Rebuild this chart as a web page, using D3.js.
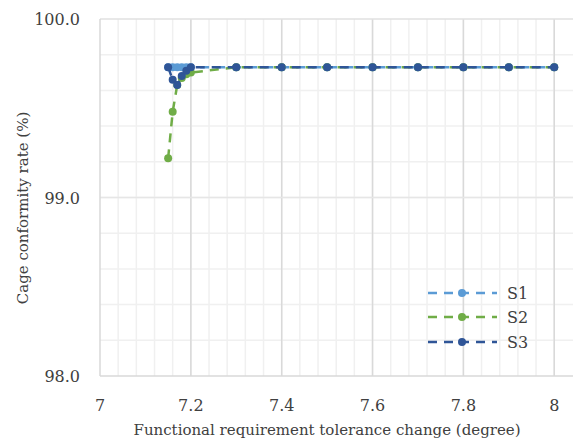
<!DOCTYPE html>
<html>
<head>
<meta charset="utf-8">
<script src="https://cdn.jsdelivr.net/npm/d3@7"></script>
<style>
  body { margin: 0; background: #fff; }
</style>
</head>
<body>
<svg width="573" height="442"></svg>
<script>
// Data
const x_values = [7.15, 7.16, 7.17, 7.18, 7.19, 7.2, 7.3, 7.4, 7.5, 7.6, 7.7, 7.8, 7.9, 8.0];
const s1_values = [99.73, 99.73, 99.73, 99.73, 99.73, 99.73, 99.73, 99.73, 99.73, 99.73, 99.73, 99.73, 99.73, 99.73];
const s2_values = [99.22, 99.48, 99.63, 99.67, 99.69, 99.70, 99.73, 99.73, 99.73, 99.73, 99.73, 99.73, 99.73, 99.73];
const s3_values = [99.73, 99.66, 99.63, 99.68, 99.71, 99.73, 99.73, 99.73, 99.73, 99.73, 99.73, 99.73, 99.73, 99.73];
const series_names = ["S1", "S2", "S3"];
const series_colors = ["#5b9bd5", "#70ad47", "#2f5597"];
const x_ticks = [7, 7.2, 7.4, 7.6, 7.8, 8];
const y_ticks = [98, 99, 100];

const svg = d3.select("svg");
const plot_left = 100, plot_right = 572, plot_top = 19, plot_bottom = 376;
const text_color = "#404040";
const serif = "'DejaVu Serif', 'Liberation Serif', serif";

const x = d3.scaleLinear().domain([7, 8.04]).range([plot_left, plot_right + 0.4]);
const y = d3.scaleLinear().domain([98, 100]).range([plot_bottom, plot_top]);

// minor grid
const grid = svg.append("g");
grid.selectAll("line.vminor")
  .data(d3.range(1, 26).map(i => 7 + i * 0.04))
  .enter().append("line")
  .attr("x1", d => x(d)).attr("x2", d => x(d))
  .attr("y1", plot_top).attr("y2", plot_bottom)
  .attr("stroke", "#f0f0f0").attr("stroke-width", 1.5);
grid.selectAll("line.hminor")
  .data(d3.range(1, 10).map(i => 98 + i * 0.2))
  .enter().append("line")
  .attr("x1", plot_left).attr("x2", 573)
  .attr("y1", d => y(d)).attr("y2", d => y(d))
  .attr("stroke", "#f0f0f0").attr("stroke-width", 1.5);

// major grid
grid.selectAll("line.vmajor")
  .data(x_ticks.slice(1))
  .enter().append("line")
  .attr("x1", d => x(d)).attr("x2", d => x(d))
  .attr("y1", plot_top).attr("y2", plot_bottom)
  .attr("stroke", "#d9d9d9").attr("stroke-width", 1.5);
grid.append("line")
  .attr("x1", plot_left).attr("x2", 573).attr("y1", y(99)).attr("y2", y(99))
  .attr("stroke", "#e6e6e6").attr("stroke-width", 1.5);
grid.append("line")
  .attr("x1", plot_left).attr("x2", 573).attr("y1", plot_top).attr("y2", plot_top)
  .attr("stroke", "#e0e0e0").attr("stroke-width", 1.5);

// axis lines
svg.append("line").attr("x1", plot_left).attr("x2", plot_left).attr("y1", plot_top).attr("y2", plot_bottom)
  .attr("stroke", "#d9d9d9").attr("stroke-width", 1.5);
svg.append("line").attr("x1", plot_left).attr("x2", 573).attr("y1", plot_bottom).attr("y2", plot_bottom)
  .attr("stroke", "#d9d9d9").attr("stroke-width", 1.5);

// tick labels
svg.selectAll("text.xt")
  .data(x_ticks).enter().append("text")
  .attr("x", d => x(d)).attr("y", 411)
  .attr("text-anchor", "middle").attr("font-size", 16)
  .style("font-family", serif).attr("fill", text_color)
  .text(d => d3.format("")(d));
svg.selectAll("text.yt")
  .data(y_ticks).enter().append("text")
  .attr("x", 80).attr("y", d => y(d) + 6)
  .attr("text-anchor", "end").attr("font-size", 16)
  .style("font-family", serif).attr("fill", text_color)
  .text(d => d.toFixed(1));

// axis titles
svg.append("text")
  .attr("x", 327).attr("y", 435)
  .attr("text-anchor", "middle").attr("font-size", 15)
  .style("font-family", serif).attr("fill", text_color)
  .text("Functional requirement tolerance change (degree)");
svg.append("text")
  .attr("transform", "translate(28,208) rotate(-90)")
  .attr("text-anchor", "middle").attr("font-size", 15)
  .style("font-family", serif).attr("fill", text_color)
  .text("Cage conformity rate (%)");

// series
const all_series = [s1_values, s2_values, s3_values];
const line = d3.line().x((d, i) => x(x_values[i])).y(d => y(d));

all_series.forEach(function(vals, k){
  const g = svg.append("g");
  g.append("path")
    .datum(vals)
    .attr("d", line)
    .attr("fill", "none")
    .attr("stroke", series_colors[k])
    .attr("stroke-width", 2.5)
    .attr("stroke-dasharray", "9,7");
  g.selectAll("circle")
    .data(vals).enter().append("circle")
    .attr("cx", (d, i) => x(x_values[i]))
    .attr("cy", d => y(d))
    .attr("r", 4)
    .attr("fill", series_colors[k]);
});

// legend
const legend_rows = [293, 317, 342];
series_names.forEach(function(name, k){
  const g = svg.append("g");
  g.append("line")
    .attr("x1", 428).attr("x2", 497)
    .attr("y1", legend_rows[k]).attr("y2", legend_rows[k])
    .attr("stroke", series_colors[k]).attr("stroke-width", 2.5)
    .attr("stroke-dasharray", "9,7");
  g.append("circle")
    .attr("cx", 462).attr("cy", legend_rows[k]).attr("r", 4)
    .attr("fill", series_colors[k]);
  g.append("text")
    .attr("x", 507).attr("y", legend_rows[k] + 6)
    .attr("font-size", 16)
    .style("font-family", serif).attr("fill", text_color)
    .text(name);
});
</script>
</body>
</html>
